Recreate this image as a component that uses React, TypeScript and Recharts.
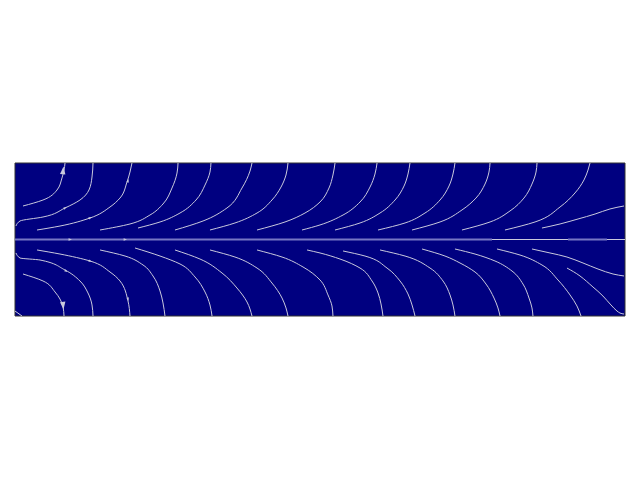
import React from "react";
import {
  ComposedChart,
  Line,
  Scatter,
  XAxis,
  YAxis,
  CartesianGrid,
  ReferenceArea,
} from "recharts";

// Domain of the flow field
const xDomain: [number, number] = [0, 8];
const yDomain: [number, number] = [-1, 1];

// Upper-half streamlines, [x, y]
const upperA = [[0.105, 0.438], [0.367, 0.516], [0.551, 0.647], [0.616, 0.804], [0.643, 0.908], [0.656, 1.0]];
const upperB = [[0.013, 0.177], [0.066, 0.242], [0.367, 0.294], [0.656, 0.412], [0.852, 0.516], [0.97, 0.647], [1.01, 0.817], [1.023, 1.0]];
const upperC = [[0.289, 0.124], [0.59, 0.176], [0.984, 0.281], [1.246, 0.425], [1.377, 0.542], [1.469, 0.752], [1.508, 0.882], [1.534, 1.0]];
const upperD = [[1.115, 0.124], [1.508, 0.203], [1.77, 0.32], [1.941, 0.464], [2.059, 0.673], [2.125, 0.869], [2.138, 1.0]];
const upperE = [[1.613, 0.15], [1.902, 0.229], [2.164, 0.346], [2.374, 0.516], [2.492, 0.712], [2.557, 0.882], [2.57, 1.0]];
const upperF = [[2.098, 0.124], [2.466, 0.242], [2.78, 0.412], [2.977, 0.673], [3.082, 0.895], [3.108, 1.0]];
const upperG = [[2.557, 0.124], [2.885, 0.216], [3.174, 0.346], [3.37, 0.516], [3.489, 0.686], [3.554, 0.843], [3.58, 1.0]];
const upperH = [[3.174, 0.124], [3.541, 0.229], [3.803, 0.346], [4.0, 0.49], [4.118, 0.673], [4.17, 0.843], [4.197, 1.0]];
const upperI = [[3.764, 0.124], [4.0, 0.19], [4.302, 0.32], [4.525, 0.49], [4.656, 0.686], [4.721, 0.856], [4.748, 1.0]];
const upperJ = [[4.197, 0.124], [4.525, 0.216], [4.787, 0.346], [4.984, 0.516], [5.102, 0.699], [5.154, 0.856], [5.18, 1.0]];
const upperK = [[4.761, 0.124], [5.115, 0.216], [5.377, 0.346], [5.574, 0.516], [5.692, 0.699], [5.744, 0.856], [5.77, 1.0]];
const upperL = [[5.207, 0.124], [5.574, 0.229], [5.862, 0.386], [6.046, 0.542], [6.164, 0.725], [6.216, 0.882], [6.23, 1.0]];
const upperM = [[5.862, 0.124], [6.23, 0.229], [6.492, 0.373], [6.675, 0.542], [6.78, 0.725], [6.833, 0.882], [6.846, 1.0]];
const upperN = [[6.426, 0.124], [6.82, 0.229], [7.148, 0.425], [7.344, 0.608], [7.462, 0.778], [7.515, 0.908], [7.541, 1.0]];
const upperO = [[6.911, 0.15], [7.148, 0.203], [7.384, 0.268], [7.607, 0.333], [7.803, 0.399], [7.987, 0.438]];

// Lower-half streamlines, [x, y]
const lowerA = [[0.105, -0.451], [0.367, -0.542], [0.525, -0.686], [0.59, -0.778], [0.63, -0.882], [0.643, -1.0]];
const lowerB = [[0.013, -0.176], [0.066, -0.242], [0.328, -0.268], [0.656, -0.399], [0.852, -0.542], [0.957, -0.699], [1.01, -0.856], [1.023, -1.0]];
const lowerC = [[0.289, -0.137], [0.59, -0.19], [0.984, -0.281], [1.246, -0.425], [1.377, -0.542], [1.482, -0.804], [1.508, -1.0]];
const lowerD = [[1.115, -0.137], [1.443, -0.216], [1.679, -0.333], [1.81, -0.477], [1.902, -0.673], [1.941, -0.83], [1.967, -1.0]];
const lowerE = [[1.574, -0.111], [1.902, -0.216], [2.164, -0.32], [2.361, -0.49], [2.492, -0.686], [2.557, -0.856], [2.584, -1.0]];
const lowerF = [[2.098, -0.137], [2.426, -0.255], [2.715, -0.438], [2.911, -0.634], [3.043, -0.817], [3.108, -1.0]];
const lowerG = [[2.557, -0.137], [2.885, -0.229], [3.174, -0.373], [3.37, -0.569], [3.502, -0.765], [3.554, -0.895], [3.58, -1.0]];
const lowerH = [[3.174, -0.137], [3.502, -0.229], [3.777, -0.359], [4.0, -0.529], [4.105, -0.725], [4.157, -0.869], [4.17, -1.0]];
const lowerI = [[3.83, -0.137], [4.0, -0.176], [4.262, -0.255], [4.525, -0.373], [4.682, -0.542], [4.761, -0.699], [4.8, -0.843], [4.826, -1.0]];
const lowerJ = [[4.302, -0.15], [4.59, -0.216], [4.879, -0.373], [5.049, -0.542], [5.154, -0.712], [5.207, -0.856], [5.246, -1.0]];
const lowerK = [[4.787, -0.137], [5.115, -0.216], [5.443, -0.373], [5.613, -0.542], [5.705, -0.725], [5.744, -0.856], [5.77, -1.0]];
const lowerL = [[5.338, -0.124], [5.639, -0.216], [5.836, -0.307], [6.033, -0.425], [6.177, -0.582], [6.282, -0.765], [6.334, -0.895], [6.361, -1.0]];
const lowerM = [[5.77, -0.124], [6.033, -0.19], [6.295, -0.281], [6.518, -0.412], [6.662, -0.582], [6.741, -0.765], [6.78, -0.895], [6.793, -1.0]];
const lowerN = [[6.321, -0.124], [6.623, -0.203], [6.911, -0.333], [7.121, -0.529], [7.279, -0.725], [7.37, -0.869], [7.423, -1.0]];
const lowerO = [[6.78, -0.124], [7.016, -0.176], [7.239, -0.229], [7.449, -0.307], [7.646, -0.386], [7.843, -0.451], [7.987, -0.477]];
const lowerP = [[7.239, -0.373], [7.41, -0.477], [7.58, -0.621], [7.711, -0.739], [7.816, -0.856], [7.895, -0.935], [7.934, -0.961], [7.987, -0.974]];
const lowerQ = [[0.0, -0.935], [0.092, -1.0]];

// Centre-line (symmetry axis) segments
const centreStrong = [[[0.0, 0.0], [6.256, 0.0]], [[7.252, 0.0], [7.764, 0.0]]];
const centreFaint = [[[6.256, 0.0], [7.252, 0.0]], [[7.764, 0.0], [8.0, 0.0]]];

// Arrow heads: [x, y, direction in degrees]
const bigArrows = [[0.63, 0.895, 84], [0.63, -0.856, -84]];
const smallArrows = [
  [0.656, 0.412, 35], [0.984, 0.281, 20], [1.482, 0.765, 72],
  [0.721, 0.0, 0], [1.443, 0.0, 0],
  [0.669, -0.412, -32], [0.984, -0.281, -15], [1.482, -0.778, -75],
];

// streamlines that curl toward a wall (vertical ending) vs. those leaving sideways
const wallStreams = [
  upperA, upperB, upperC, upperD, upperE, upperF, upperG, upperH, upperI, upperJ, upperK, upperL, upperM, upperN,
  lowerA, lowerB, lowerC, lowerD, lowerE, lowerF, lowerG, lowerH, lowerI, lowerJ, lowerK, lowerL, lowerM, lowerN,
];
const sideStreams = [upperO, lowerO, lowerP, lowerQ];

const toPts = (arr: number[][]) => arr.map(([x, y]) => ({ x, y }));
const toArrows = (arr: number[][]) => arr.map(([x, y, a]) => ({ x, y, a }));

const LINE_COLOR = "#c9c9dd";
const CENTRE_COLOR = "#7676c4";
const BG = "#000080";

const makeArrow = (s: number) => (props: any) => {
  const { cx, cy, payload } = props;
  if (cx == null || cy == null) return <g />;
  return (
    <polygon
      points={`${s},0 ${-s * 0.7},${-s * 0.6} ${-s * 0.7},${s * 0.6}`}
      transform={`translate(${cx},${cy}) rotate(${-payload.a})`}
      fill={LINE_COLOR}
    />
  );
};

const BigArrow = makeArrow(4.5);
const SmallArrow = makeArrow(2);

export default function App() {
  return (
    <div style={{ position: "absolute", left: 0, top: 0, width: 640, height: 480, background: "#fff" }}>
      <ComposedChart
        width={640}
        height={480}
        margin={{ top: 163, right: 15, bottom: 164, left: 15 }}
      >
        <CartesianGrid fill={BG} horizontal={false} vertical={false} stroke="none" />
        <XAxis type="number" dataKey="x" domain={xDomain} hide allowDataOverflow />
        <YAxis type="number" dataKey="y" domain={yDomain} hide allowDataOverflow />
        {centreStrong.map((seg, i) => (
          <Line
            key={`cs${i}`}
            data={toPts(seg)}
            dataKey="y"
            type="linear"
            stroke={CENTRE_COLOR}
            strokeWidth={2}
            dot={false}
            activeDot={false}
            isAnimationActive={false}
          />
        ))}
        {centreFaint.map((seg, i) => (
          <Line
            key={`cf${i}`}
            data={toPts(seg)}
            dataKey="y"
            type="linear"
            stroke={LINE_COLOR}
            strokeWidth={1}
            dot={false}
            activeDot={false}
            isAnimationActive={false}
          />
        ))}
        {wallStreams.map((s, i) => (
          <Line
            key={`w${i}`}
            data={toPts(s)}
            dataKey="y"
            type="monotoneY"
            stroke={LINE_COLOR}
            strokeWidth={1}
            dot={false}
            activeDot={false}
            isAnimationActive={false}
          />
        ))}
        {sideStreams.map((s, i) => (
          <Line
            key={`h${i}`}
            data={toPts(s)}
            dataKey="y"
            type="monotoneX"
            stroke={LINE_COLOR}
            strokeWidth={1}
            dot={false}
            activeDot={false}
            isAnimationActive={false}
          />
        ))}
        <Scatter data={toArrows(bigArrows)} dataKey="y" shape={BigArrow} isAnimationActive={false} />
        <Scatter data={toArrows(smallArrows)} dataKey="y" shape={SmallArrow} isAnimationActive={false} />
        <ReferenceArea
          x1={xDomain[0]}
          x2={xDomain[1]}
          y1={yDomain[0]}
          y2={yDomain[1]}
          fill="none"
          stroke="#333333"
          strokeWidth={1}
          ifOverflow="visible"
        />
      </ComposedChart>
    </div>
  );
}
